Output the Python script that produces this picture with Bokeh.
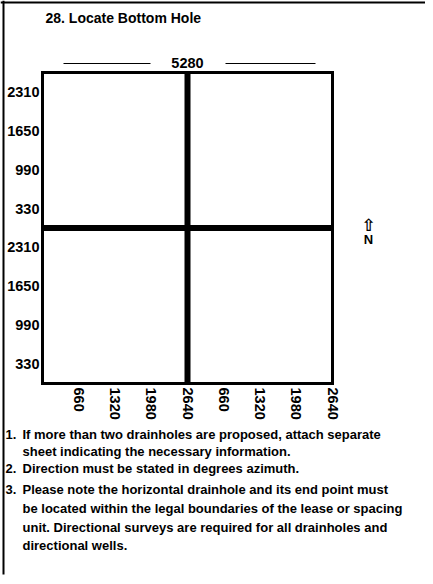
import math
from bokeh.plotting import figure
from bokeh.models import Range1d, Label
from bokeh.core.properties import value
from bokeh.embed import file_html
from bokeh.resources import INLINE

# ---- data ----
SECTION = 5280
HALF = SECTION // 2
x_ticks = [660, 1320, 1980, 2640]
y_ticks = [2310, 1650, 990, 330]
section_label = "5280"
title_text = "28.  Locate Bottom Hole"
north_arrow = "\u21e7"
north_label = "N"
note_numbers = ["1.", "", "2.", "3.", "", "", ""]
note_lines = [
    "If more than two drainholes are proposed, attach separate",
    "sheet indicating the necessary information.",
    "Direction must be stated in degrees azimuth.",
    "Please note the horizontal drainhole and its end point must",
    "be located within the legal boundaries of the lease or spacing",
    "unit. Directional surveys are required for all drainholes and",
    "directional wells.",
]

# ---- layout (canvas pixels) ----
W, H = 425, 576
GRID_LEFT, GRID_RIGHT, GRID_TOP, GRID_BOTTOM = 42, 332, 72, 383
SX = (GRID_RIGHT - GRID_LEFT) / SECTION
SY = (GRID_BOTTOM - GRID_TOP) / SECTION
X0 = -GRID_LEFT / SX
Y1 = SECTION + GRID_TOP / SY


def fx(px):
    return X0 + px / SX


def fy(py):
    return Y1 - py / SY


FONT = value("Liberation Sans")

p = figure(width=W, height=H, x_range=Range1d(fx(0), fx(W)), y_range=Range1d(fy(H), fy(0)),
           min_border=0, toolbar_location=None, output_backend="svg")
p.axis.visible = False
p.grid.visible = False
p.outline_line_color = None
p.background_fill_color = "white"
p.border_fill_color = "white"

# page border (top and left)
p.segment(x0=[fx(0), fx(3)], y0=[fy(2), fy(0)], x1=[fx(W), fx(3)], y1=[fy(2), fy(574)],
          line_color="black", line_width=2)

# section box
p.quad(left=[0], right=[SECTION], bottom=[0], top=[SECTION], fill_color=None,
       line_color="black", line_width=3, line_join="miter")
# quarter lines
p.segment(x0=[HALF, 0], y0=[0, HALF], x1=[HALF, SECTION], y1=[SECTION, HALF],
          line_color="black", line_width=6)

# left labels (distance from south line of each half)
ly = [HALF + v for v in y_ticks] + list(y_ticks)
ltxt = [str(v) for v in y_ticks] * 2
p.text(x=[fx(GRID_LEFT - 3)] * len(ly), y=ly, text=ltxt, text_align="right",
       text_baseline="middle", text_font=FONT, text_font_style="bold",
       text_font_size="14.5px", text_color="black")

# bottom labels (rotated)
bx = list(x_ticks) + [HALF + v for v in x_ticks]
btxt = [str(v) for v in x_ticks] * 2
p.text(x=bx, y=[fy(GRID_BOTTOM + 4)] * len(bx), text=btxt, angle=-math.pi / 2,
       text_align="left", text_baseline="middle", text_font=FONT,
       text_font_style="bold", text_font_size="14.5px", text_color="black")

# 5280 header with rules
p.text(x=[HALF], y=[fy(62)], text=[section_label], text_align="center",
       text_baseline="middle", text_font=FONT, text_font_style="bold",
       text_font_size="14.5px", text_color="black")
p.segment(x0=[fx(63), fx(225)], y0=[fy(63), fy(63)], x1=[fx(150), fx(315)], y1=[fy(63), fy(63)],
          line_color="black", line_width=1)

# title
p.add_layout(Label(x=fx(45), y=fy(17), text=title_text, text_align="left",
                   text_baseline="middle", text_font="Liberation Sans",
                   text_font_style="bold", text_font_size="14px", text_color="black"))

# north arrow
p.add_layout(Label(x=fx(368), y=fy(224), text=north_arrow, text_align="center",
                   text_baseline="middle", text_font="DejaVu Sans",
                   text_font_style="bold", text_font_size="17px", text_color="black"))
p.add_layout(Label(x=fx(368), y=fy(239), text=north_label, text_align="center",
                   text_baseline="middle", text_font="Liberation Sans",
                   text_font_style="bold", text_font_size="13px", text_color="black"))

# notes
note_y = [434, 451, 468, 489, 508, 527, 545]
for num, line, yy in zip(note_numbers, note_lines, note_y):
    if num:
        p.add_layout(Label(x=fx(5), y=fy(yy), text=num, text_align="left",
                           text_baseline="middle", text_font="Liberation Sans",
                           text_font_style="bold", text_font_size="13px", text_color="black"))
    p.add_layout(Label(x=fx(22), y=fy(yy), text=line, text_align="left",
                       text_baseline="middle", text_font="Liberation Sans",
                       text_font_style="bold", text_font_size="13px", text_color="black"))

open("out.html", "w").write(file_html(p, INLINE))
